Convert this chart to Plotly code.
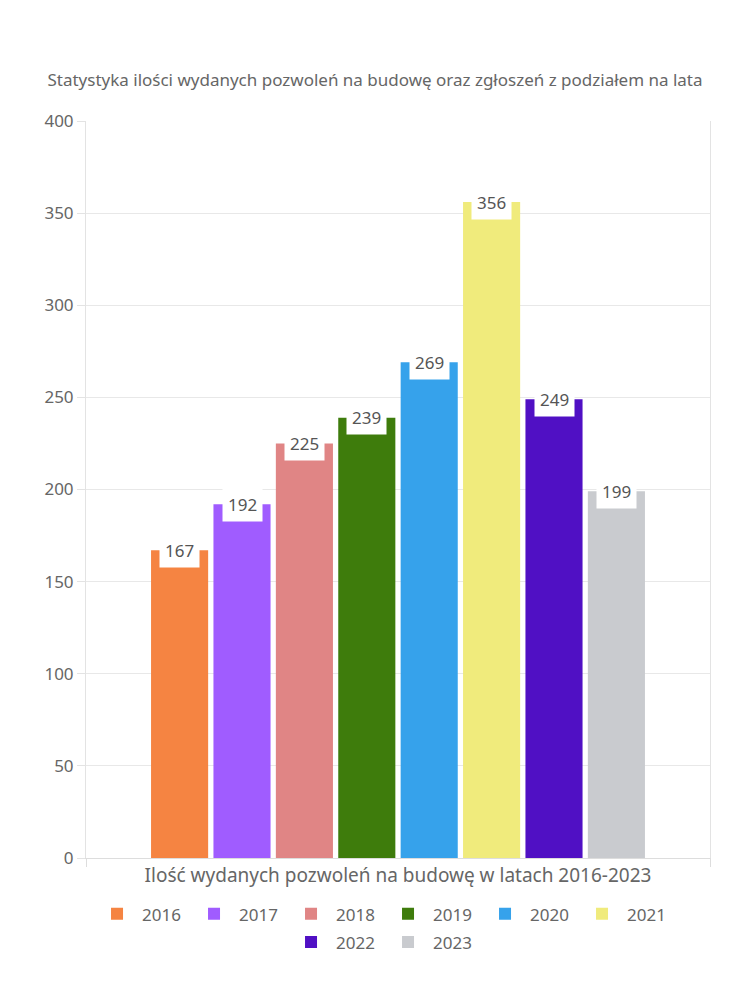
import plotly.graph_objects as go

title = "Statystyka ilości wydanych pozwoleń na budowę oraz zgłoszeń z podziałem na lata"
category = "Ilość wydanych pozwoleń na budowę w latach 2016-2023"
years = ["2016", "2017", "2018", "2019", "2020", "2021", "2022", "2023"]
values = [167, 192, 225, 239, 269, 356, 249, 199]
colors = ["#F58442", "#A05CFF", "#E08585", "#3E7C0C", "#36A2EB", "#F0EB7C", "#5010C4", "#C9CBCF"]

FONT = "Noto Sans"
GRAY = "#666666"
bargap = 0.2

fig = go.Figure()
for i, (y, v, c) in enumerate(zip(years, values, colors)):
    fig.add_trace(go.Bar(
        x=[category], y=[v], name=y, marker=dict(color=c, line=dict(width=0)),
        hoverinfo="y", legend="legend" if i < 6 else "legend2",
    ))

n = len(years)
slot = (1 - bargap) / n
for i, v in enumerate(values):
    fig.add_annotation(
        x=(i - (n - 1) / 2) * slot, y=v, xref="x", yref="y",
        text=str(v), showarrow=False, yanchor="middle", xanchor="center",
        bgcolor="white", borderpad=5,
        font=dict(family=FONT, size=17, color="#555555"),
    )

legend_common = dict(orientation="h", xanchor="center", yanchor="top",
                     entrywidth=42, entrywidthmode="pixels", itemwidth=40,
                     font=dict(family=FONT, size=17, color=GRAY), traceorder="normal")

fig.update_layout(
    width=750, height=1000,
    paper_bgcolor="white", plot_bgcolor="white",
    margin=dict(l=86, r=40, t=121, b=142),
    barmode="group", bargap=bargap, bargroupgap=0.085,
    font=dict(family=FONT, color=GRAY, size=16),
    title=dict(text=title, x=0.5, xanchor="center", y=1 - 80 / 1000, yanchor="middle",
               font=dict(family=FONT, size=17, color=GRAY)),
    showlegend=True,
    legend=dict(x=0.476, y=-0.052, **legend_common),
    legend2=dict(x=0.476, y=-0.090, **legend_common),
)
fig.update_xaxes(
    type="category", tickson="boundaries", ticks="outside", ticklen=8, tickcolor="#dddddd",
    showline=True, linecolor="#dddddd", showgrid=False,
    tickfont=dict(family=FONT, size=19, color=GRAY),
)
fig.update_yaxes(
    range=[0, 400], dtick=50, ticks="outside", ticklen=8, tickcolor="#e3e3e3",
    showgrid=True, gridcolor="#e8e8e8", gridwidth=1, zeroline=False,
    showline=True, linecolor="#e3e3e3", mirror=True,
    tickfont=dict(family=FONT, size=17, color=GRAY),
)

fig.write_html("out.html")
